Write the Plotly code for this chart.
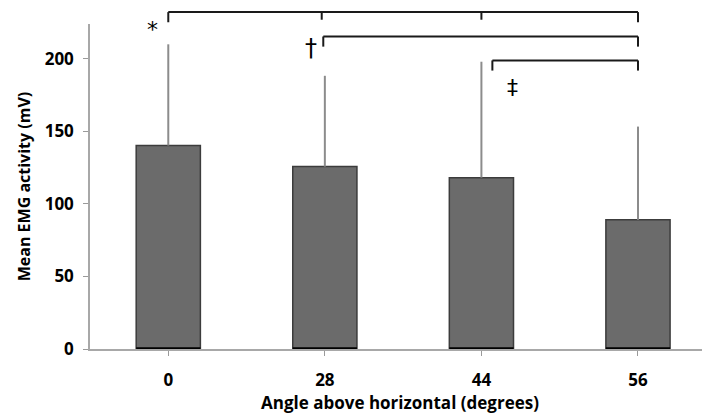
import plotly.graph_objects as go

categories = ["0", "28", "44", "56"]
means = [140.2, 125.7, 118.1, 89.0]
sd_upper = [69.8, 62.6, 79.9, 64.3]
y_ticks = [0, 50, 100, 150, 200]

# significance brackets: (x positions of drops, level in data units, symbol, symbol x, symbol y)
bracket_levels = [232.2, 215.4, 198.9]
bracket_drops = [[0, 0.98, 2.0, 3.0], [0.99, 3.0], [2.07, 3.0]]
bracket_symbols = ["*", "\u2020", "\u2021"]
symbol_x = [-0.1, 0.91, 2.2]
symbol_y = [220, 207.6, 180]

Y_MAX = 224
BAR_W = 0.41

fig = go.Figure()
fig.add_trace(go.Bar(
    x=list(range(len(categories))), y=means, width=BAR_W,
    marker=dict(color="#6b6b6b", line=dict(color="#3c3c3c", width=1.5)),
    error_y=dict(type="data", symmetric=False, array=sd_upper,
                 arrayminus=[0] * len(means), color="#8c8c8c",
                 thickness=2, width=0),
    showlegend=False,
))

shapes = []
# thick black base under each bar
for i in range(len(categories)):
    shapes.append(dict(type="line", xref="x", yref="y",
                       x0=i - BAR_W / 2, x1=i + BAR_W / 2, y0=0, y1=0,
                       line=dict(color="black", width=3.5), layer="above"))

drop = 7.0
for lvl, drops in zip(bracket_levels, bracket_drops):
    yp = lvl / Y_MAX
    shapes.append(dict(type="line", xref="x", yref="paper",
                       x0=drops[0], x1=drops[-1], y0=yp, y1=yp,
                       line=dict(color="#1a1a1a", width=2)))
    for j, d in enumerate(drops):
        end = j in (0, len(drops) - 1)
        dd = drop if end else drop * 0.75
        shapes.append(dict(type="line", xref="x", yref="paper",
                           x0=d, x1=d, y0=yp, y1=(lvl - dd) / Y_MAX,
                           line=dict(color="#1a1a1a", width=2)))

annotations = []
for s, sx, sy, fs in zip(bracket_symbols, symbol_x, symbol_y, [22, 24, 22]):
    annotations.append(dict(x=sx, y=sy / Y_MAX, xref="x", yref="paper",
                            xanchor="center", yanchor="middle",
                            text=s, showarrow=False,
                            font=dict(family="DejaVu Sans", size=fs, color="black")))

fig.update_layout(
    width=702, height=411,
    margin=dict(l=82, r=0, t=16, b=70),
    paper_bgcolor="white", plot_bgcolor="white",
    shapes=shapes, annotations=annotations,
    font=dict(family="Open Sans", color="black"),
)
fig.update_xaxes(
    range=[-0.5, 3.46], automargin=False,
    tickmode="array", tickvals=list(range(len(categories))), ticktext=categories,
    tickson="boundaries", ticks="outside", ticklen=5, tickcolor="#9a9a9a",
    showline=True, linecolor="#a8a8a8", linewidth=1.5,
    showgrid=False, zeroline=False,
    tickfont=dict(family="Open Sans", size=17, weight="bold", color="black"),
    ticklabelstandoff=10,
    title=dict(text="Angle above horizontal (degrees)",
               font=dict(family="Open Sans", size=17, weight="bold", color="black"),
               standoff=4),
)
fig.update_yaxes(
    range=[0, Y_MAX], automargin=False,
    tickmode="array", tickvals=y_ticks,
    ticks="outside", ticklen=5, tickcolor="#9a9a9a",
    showline=True, linecolor="#a8a8a8", linewidth=1.5,
    showgrid=False, zeroline=False,
    tickfont=dict(family="Open Sans", size=17, weight="bold", color="black"),
    ticklabelstandoff=6,
    title=dict(text="Mean EMG activity (mV)",
               font=dict(family="Open Sans", size=16, weight="bold", color="black"),
               standoff=10),
)

fig.write_html("out.html")
